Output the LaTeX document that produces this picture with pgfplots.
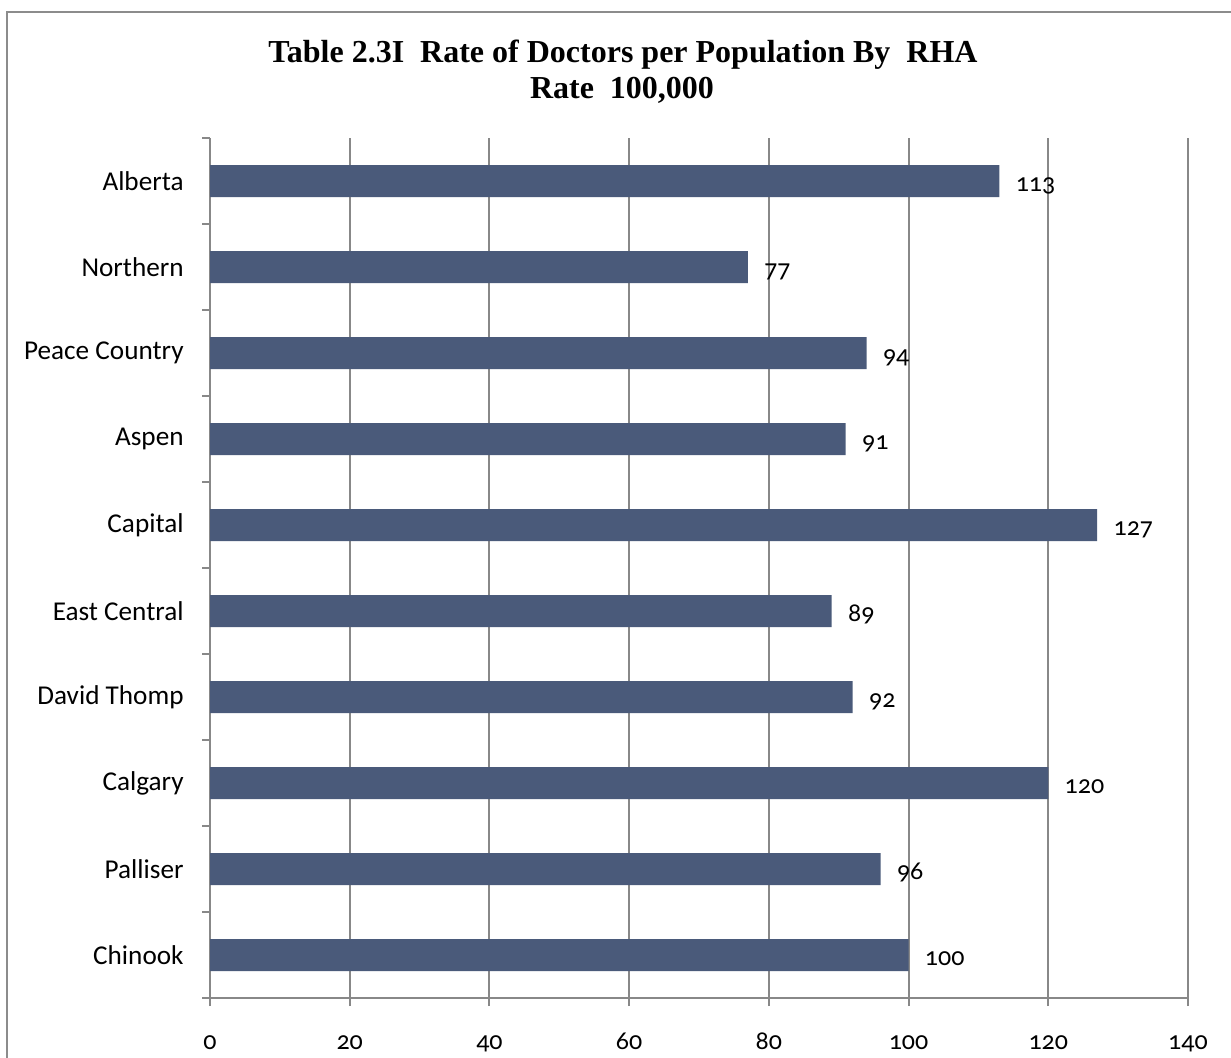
\documentclass[border=0pt]{standalone}
\usepackage{fontspec}
\usepackage{pgfplots}
\pgfplotsset{compat=1.18}
\newfontfamily\labelfont{Carlito}
\newfontfamily\numfont{Carlito}[Numbers=OldStyle]
\newfontfamily\titlefont{Liberation Serif}
\definecolor{barblue}{RGB}{74,90,122}
\definecolor{gridgray}{RGB}{136,136,136}
\definecolor{framegray}{RGB}{140,140,140}
\begin{document}
\begin{tikzpicture}
\useasboundingbox (0,0) rectangle (615.5pt,-528.5pt);
\draw[draw=framegray, line width=1pt] (3.5pt,-540pt) -- (3.5pt,-6pt) -- (630pt,-6pt);
\node[font=\titlefont\bfseries\fontsize{16pt}{19pt}\selectfont, anchor=base] at (311.5pt,-31pt) {Table 2.3I\ \ Rate of Doctors per Population By\ \ RHA};
\node[font=\titlefont\bfseries\fontsize{16pt}{19pt}\selectfont, anchor=base] at (311pt,-49pt) {Rate\ \ 100,000};
\begin{axis}[
  at={(105pt,-499pt)}, anchor=south west,
  scale only axis, width=489pt, height=430pt,
  xmin=0, xmax=140, ymin=-0.5, ymax=9.5,
  xbar, bar width=16pt,
  axis x line*=bottom, axis y line*=left,
  axis line style={draw=gridgray, line width=1pt, -},
  xtick={0,20,...,140}, xmajorgrids,
  grid style={draw=gridgray, line width=1pt},
  ytick={-0.5,0.5,...,9.5}, yticklabels={},
  extra y ticks={0,...,9},
  extra y tick labels={Chinook,Palliser,Calgary,David Thomp,East Central,Capital,Aspen,Peace Country,Northern,Alberta},
  extra y tick style={major tick length=0pt, yticklabel style={xshift=-13pt}},
  tick align=outside,
  major tick length=4pt,
  tick style={draw=gridgray, line width=1pt},
  /pgf/number format/assume math mode=true,
  yticklabel style={font=\labelfont\fontsize{13.6pt}{15pt}\selectfont, anchor=east, inner sep=0pt},
  xticklabel style={font=\numfont\fontsize{13pt}{15pt}\selectfont, anchor=base, inner sep=0pt, yshift=-21.5pt},
  nodes near coords,
  nodes near coords style={font=\numfont\fontsize{13pt}{15pt}\selectfont, anchor=base west, inner sep=0pt, xshift=8pt, yshift=-5pt, text=black},
  clip=false,
]
\addplot[fill=barblue, draw=none] coordinates {
  (100,0) (96,1) (120,2) (92,3) (89,4) (127,5) (91,6) (94,7) (77,8) (113,9)
};
\end{axis}
\end{tikzpicture}
\end{document}
